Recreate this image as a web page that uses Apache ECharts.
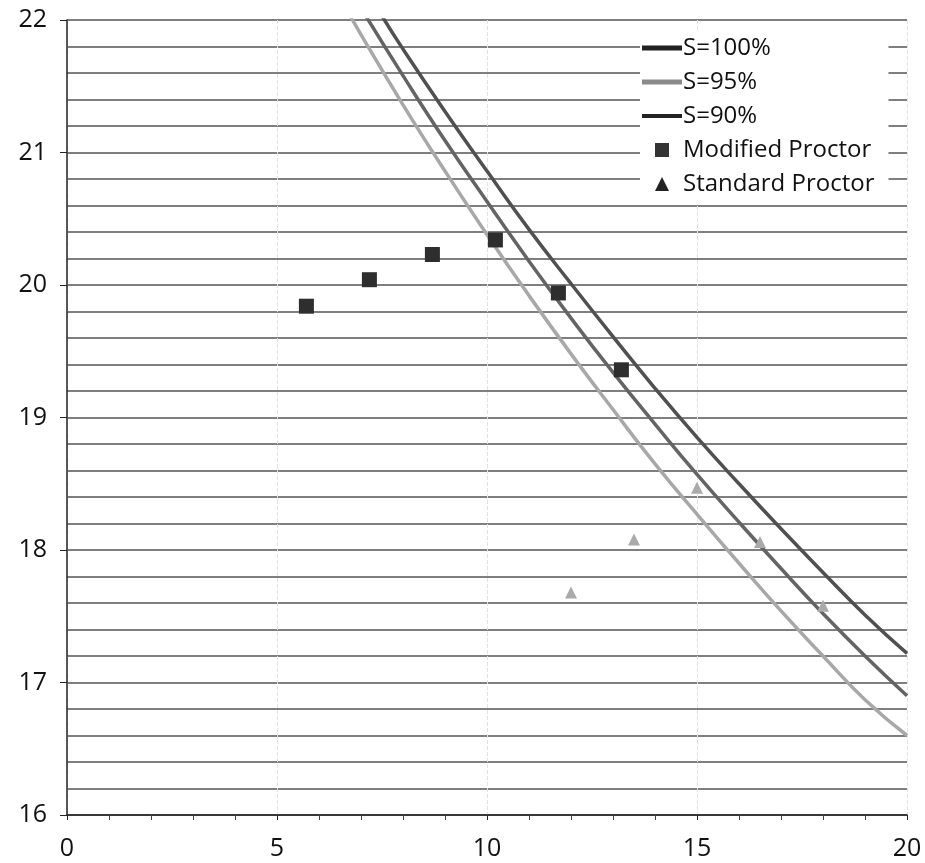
<!DOCTYPE html>
<html>
<head>
<meta charset="utf-8">
<script src="https://cdn.jsdelivr.net/npm/echarts@6/dist/echarts.min.js"></script>
<style>html,body{margin:0;padding:0;background:#fff}#c{width:925px;height:863px}</style>
</head>
<body>
<div id="c"></div>
<script>
// Curves (x = water content %, y = dry unit weight)
const s100X = [7.5, 8, 9, 10, 11, 12, 13, 14, 15, 16, 17, 18, 19, 20];
const s100Y = [22.03, 21.78, 21.31, 20.86, 20.42, 20.01, 19.61, 19.22, 18.85, 18.50, 18.16, 17.83, 17.51, 17.22];
const s95X = [7, 8, 9, 10, 11, 12, 13, 14, 15, 16, 17, 18, 19, 20];
const s95Y = [22.09, 21.58, 21.09, 20.63, 20.18, 19.75, 19.34, 18.95, 18.57, 18.21, 17.86, 17.52, 17.20, 16.90];
const s90X = [6.5, 7, 8, 9, 10, 11, 12, 13, 14, 15, 16, 17, 18, 19, 20];
const s90Y = [22.17, 21.89, 21.36, 20.86, 20.38, 19.92, 19.48, 19.06, 18.65, 18.27, 17.90, 17.54, 17.20, 16.87, 16.60];
const modX = [5.7, 7.2, 8.7, 10.2, 11.7, 13.2];
const modY = [19.84, 20.04, 20.23, 20.34, 19.94, 19.36];
const stdX = [12, 13.5, 15, 16.5, 18];
const stdY = [17.68, 18.08, 18.47, 18.06, 17.58];
const xTicks = [0, 5, 10, 15, 20];
const yTicks = [16, 17, 18, 19, 20, 21, 22];

const zip = (a, b) => a.map((v, i) => [v, b[i]]);
const font = 'Open Sans';
const lineIconThick = 'path://M0,0H40V5H0Z';
const lineIconThin = 'path://M0,0H40V4H0Z';

const chart = echarts.init(document.getElementById('c'));
chart.setOption({
  animation: false,
  backgroundColor: '#fff',
  grid: { left: 67, right: 18, top: 20, bottom: 48, containLabel: false },
  xAxis: {
    type: 'value', min: xTicks[0], max: xTicks[xTicks.length - 1], interval: 5,
    axisLine: { show: true, onZero: false, lineStyle: { color: '#222', width: 1.5 } },
    axisTick: { show: true, length: 5, inside: false, lineStyle: { color: '#222' } },
    minorTick: { show: true, splitNumber: 5, length: 5, lineStyle: { color: '#444' } },
    splitLine: { show: true, lineStyle: { color: '#e2e2e2', width: 1, type: 'dashed' } },
    axisLabel: { color: '#111', fontSize: 25, fontFamily: font, margin: 21 }
  },
  yAxis: {
    type: 'value', min: yTicks[0], max: yTicks[yTicks.length - 1], interval: 1,
    axisLine: { show: true, onZero: false, lineStyle: { color: '#222', width: 1.5 } },
    axisTick: { show: true, length: 7, lineStyle: { color: '#222' } },
    splitLine: { show: true, lineStyle: { color: '#555', width: 1.5 } },
    minorSplitLine: { show: true, lineStyle: { color: '#555', width: 1.5 } },
    minorTick: { show: false, splitNumber: 5 },
    axisLabel: { color: '#111', fontSize: 25, fontFamily: font, margin: 20 }
  },
  legend: {
    orient: 'vertical', left: 640, top: 30,
    backgroundColor: '#fff', padding: [6, 14, 8, 2],
    itemWidth: 40, itemHeight: 14, itemGap: 10, symbolKeepAspect: true,
    textStyle: { fontSize: 24, lineHeight: 24, fontFamily: font, color: '#111', padding: [0, 0, 0, -4] },
    data: [
      { name: 'S=100%', icon: lineIconThick, itemStyle: { color: '#222' } },
      { name: 'S=95%', icon: lineIconThick, itemStyle: { color: '#8a8a8a' } },
      { name: 'S=90%', icon: lineIconThin, itemStyle: { color: '#222' } },
      { name: 'Modified Proctor', icon: 'path://M0,0H10V10H0Z', itemStyle: { color: '#333' } },
      { name: 'Standard Proctor', icon: 'path://M5,0L10,10H0Z', itemStyle: { color: '#222' } }
    ]
  },
  series: [
    { name: 'S=100%', type: 'line', data: zip(s100X, s100Y), smooth: true, symbol: 'none',
      lineStyle: { color: '#505050', width: 3.5 }, itemStyle: { color: '#505050' }, clip: true },
    { name: 'S=95%', type: 'line', data: zip(s95X, s95Y), smooth: true, symbol: 'none',
      lineStyle: { color: '#646464', width: 3.5 }, itemStyle: { color: '#646464' }, clip: true },
    { name: 'S=90%', type: 'line', data: zip(s90X, s90Y), smooth: true, symbol: 'none',
      lineStyle: { color: '#a8a8a8', width: 3.5 }, itemStyle: { color: '#a8a8a8' }, clip: true },
    { name: 'Modified Proctor', type: 'scatter', data: zip(modX, modY), symbol: 'rect', symbolSize: 15,
      itemStyle: { color: '#2e2e2e', opacity: 1 }, z: 5 },
    { name: 'Standard Proctor', type: 'scatter', data: zip(stdX, stdY), symbol: 'triangle', symbolSize: 12,
      itemStyle: { color: '#aaaaaa', opacity: 1 }, z: 5 }
  ]
});
</script>
</body>
</html>
